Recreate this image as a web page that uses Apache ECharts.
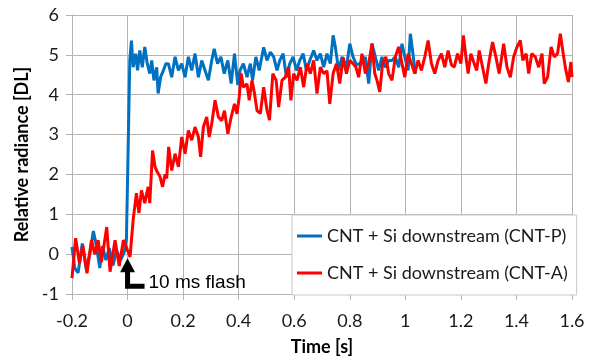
<!DOCTYPE html>
<html>
<head>
<meta charset="utf-8">
<script src="https://cdn.jsdelivr.net/npm/echarts@6/dist/echarts.min.js"></script>
<style>
html,body{margin:0;padding:0;background:#fff;}
#chart{width:591px;height:361px;}
</style>
</head>
<body>
<div id="chart"></div>
<script>
// ---- data ----
var seriesNames = ['CNT + Si downstream (CNT-P)', 'CNT + Si downstream (CNT-A)'];
var xTicks = [-0.2, 0, 0.2, 0.4, 0.6, 0.8, 1, 1.2, 1.4, 1.6];
var yTicks = [-1, 0, 1, 2, 3, 4, 5, 6];
var annotationText = '10 ms flash';

var blueT = [-0.200,-0.190,-0.178,-0.163,-0.148,-0.135,-0.123,-0.112,-0.100,-0.090,-0.078,-0.066,-0.052,-0.040,-0.025,-0.012,-0.004,
  0.002,0.008,0.014,0.020,0.029,0.036,0.044,0.053,0.062,0.071,0.080,0.087,0.095,0.105,0.110,0.119,0.129,0.138,
  0.147,0.159,0.171,0.183,0.195,0.207,0.219,0.231,0.243,0.255,0.267,0.279,0.291,0.303,0.312,0.324,0.336,0.348,
  0.361,0.373,0.385,0.397,0.405,0.417,0.430,0.442,0.450,0.462,0.474,0.490,0.502,0.514,0.526,0.538,0.548,0.560,
  0.572,0.584,0.596,0.608,0.620,0.632,0.644,0.656,0.670,0.682,0.694,0.706,0.718,0.730,0.740,0.748,0.760,0.772,
  0.788,0.800,0.812,0.824,0.836,0.846,0.856,0.868,0.880,0.892,0.904,0.916,0.928,0.940,0.952,0.964,0.976,0.988,
  0.998,1.010,1.018,1.026,1.036];
var blueV = [0.18,-0.35,-0.47,0.27,-0.40,0.05,0.58,0.20,-0.35,0.20,-0.15,0.15,-0.28,0.10,-0.15,0.05,0.40,
  2.60,4.86,5.36,4.69,5.03,4.61,5.11,4.69,5.20,4.78,4.53,4.86,4.36,4.69,4.03,4.44,4.61,4.78,
  4.78,4.44,4.95,4.61,4.78,4.44,4.95,4.61,5.03,4.44,4.86,4.61,4.36,4.86,5.15,4.78,4.95,4.53,
  4.86,4.28,5.03,4.24,4.61,4.78,4.44,4.78,4.36,4.95,4.61,5.19,4.86,5.07,4.95,4.61,4.86,5.03,
  4.44,4.78,4.95,4.61,4.86,5.03,4.61,4.86,5.11,4.86,5.03,4.69,5.03,4.78,5.49,5.20,4.61,4.95,
  4.69,5.28,4.95,4.75,4.78,4.82,4.95,4.28,5.28,4.95,4.61,4.95,4.69,4.86,4.86,4.95,4.69,5.28,
  4.95,4.61,5.53,5.11,4.53];

var redT = [-0.200,-0.187,-0.173,-0.161,-0.146,-0.130,-0.118,-0.106,-0.094,-0.075,-0.063,-0.045,-0.030,-0.015,-0.003,
  0.009,0.020,0.032,0.041,0.050,0.062,0.074,0.080,0.090,0.099,0.107,0.117,0.126,0.135,0.141,0.148,0.159,0.171,
  0.183,0.195,0.207,0.219,0.231,0.243,0.255,0.263,0.273,0.285,0.294,0.303,0.315,0.327,0.339,0.349,0.361,0.373,
  0.385,0.394,0.402,0.409,0.417,0.430,0.438,0.448,0.457,0.466,0.478,0.490,0.502,0.511,0.523,0.535,0.544,0.556,
  0.568,0.580,0.588,0.598,0.610,0.622,0.634,0.646,0.658,0.670,0.682,0.694,0.706,0.718,0.728,0.740,0.752,0.764,
  0.776,0.788,0.800,0.812,0.822,0.832,0.844,0.856,0.868,0.880,0.890,0.898,0.908,0.918,0.930,0.940,0.952,0.964,
  0.976,0.988,0.998,1.010,1.022,1.034,1.046,1.058,1.070,1.082,1.094,1.106,1.118,1.130,1.142,1.154,1.166,1.176,
  1.188,1.200,1.209,1.218,1.226,1.236,1.248,1.257,1.266,1.278,1.290,1.300,1.314,1.326,1.338,1.354,1.366,1.378,
  1.390,1.402,1.414,1.423,1.435,1.444,1.455,1.468,1.480,1.492,1.500,1.512,1.525,1.536,1.548,1.558,1.570,1.578,
  1.587,1.596,1.600];
var redV = [-0.60,0.40,-0.23,0.22,-0.48,0.35,0.00,0.35,-0.20,0.68,-0.44,0.35,-0.30,0.35,0.15,
  -0.07,0.85,1.53,1.03,1.60,1.28,1.69,1.28,2.60,2.19,2.06,1.94,1.69,2.00,1.90,2.69,2.10,2.52,
  2.19,2.94,2.52,3.10,2.86,3.19,2.94,2.44,3.19,3.44,2.94,3.27,3.86,3.44,3.35,3.60,3.02,3.44,
  3.77,3.52,3.94,4.53,4.19,4.27,3.86,4.36,4.03,3.60,3.53,4.19,3.61,3.36,4.53,4.36,3.69,4.36,
  4.44,4.69,3.86,4.53,4.36,4.69,4.19,4.78,4.53,4.86,4.03,4.69,4.53,4.60,3.77,4.53,4.78,4.28,
  4.94,4.53,4.86,4.78,4.69,4.44,5.03,4.53,4.78,5.28,4.53,4.36,4.07,4.78,4.95,4.53,4.36,4.95,
  5.20,4.78,4.44,5.03,4.78,4.53,4.86,4.61,4.95,5.36,4.78,4.53,4.86,5.03,4.69,5.11,4.75,4.69,
  5.03,4.78,5.49,4.95,4.53,5.03,4.78,4.61,5.11,4.69,4.28,4.78,5.32,4.95,4.53,5.28,4.69,4.44,
  4.95,5.20,5.36,4.86,5.03,4.53,5.03,4.95,4.69,5.03,4.28,4.44,5.20,4.95,5.03,5.53,4.95,4.61,
  4.32,4.82,4.44];

var blueData = blueT.map(function(t,i){return [t, blueV[i]];});
var redData = redT.map(function(t,i){return [t, redV[i]];});

var chart = echarts.init(document.getElementById('chart'), null, {renderer:'canvas'});
var labelFont = 'Lato';
var gridColor = '#b4b4b4';
var option = {
  animation: false,
  backgroundColor: '#ffffff',
  grid: {left: 72, right: 19, top: 15, bottom: 67, containLabel: false},
  xAxis: {
    type: 'value', min: xTicks[0], max: xTicks[xTicks.length-1], interval: 0.2,
    name: 'Time [s]', nameLocation: 'middle', nameGap: 44,
    nameTextStyle: {fontFamily: labelFont, fontSize: 18, fontWeight: 'bold', color: '#000'},
    axisLine: {show: true, onZero: false, lineStyle: {color: gridColor, width: 1}},
    axisTick: {show: true, inside: false, length: 6, lineStyle: {color: gridColor}},
    axisLabel: {fontFamily: labelFont, fontSize: 18, color: '#1a1a1a', margin: 18,
      formatter: function(v){ return String(Math.round(v*10)/10); }},
    splitLine: {show: true, lineStyle: {color: gridColor, width: 1}}
  },
  yAxis: {
    type: 'value', min: yTicks[0], max: yTicks[yTicks.length-1], interval: 1,
    name: 'Relative radiance [DL]', nameLocation: 'middle', nameGap: 39,
    nameTextStyle: {fontFamily: labelFont, fontSize: 18, fontWeight: 'bold', color: '#000'},
    axisLine: {show: true, onZero: false, lineStyle: {color: gridColor, width: 1}},
    axisTick: {show: true, inside: false, length: 6, lineStyle: {color: gridColor}},
    axisLabel: {fontFamily: labelFont, fontSize: 18, color: '#1a1a1a', margin: 13},
    splitLine: {show: true, lineStyle: {color: gridColor, width: 1}}
  },
  legend: {
    orient: 'vertical', left: 292, top: 215,
    backgroundColor: '#ffffff', borderColor: '#c8c8c8', borderWidth: 1,
    padding: [10, 9, 11, 5], itemGap: 15, itemWidth: 25, itemHeight: 14,
    itemTextGap: 2,
    textStyle: {fontFamily: labelFont, fontSize: 18, color: '#1a1a1a', lineHeight: 22},
    data: seriesNames.map(function(n){ return {name: n, icon: 'path://M0,5.5 L25,5.5 L25,8.5 L0,8.5 Z'}; })
  },
  series: [
    {name: seriesNames[0], type: 'line', data: blueData, symbol: 'none', smooth: false,
     lineStyle: {color: '#0070C0', width: 3}, itemStyle: {color: '#0070C0'}, z: 3},
    {name: seriesNames[1], type: 'line', data: redData, symbol: 'none', smooth: false,
     lineStyle: {color: '#FF0000', width: 3}, itemStyle: {color: '#FF0000'}, z: 4}
  ]
};
chart.setOption(option);

// annotation arrow anchored at the flash time (t = 0)
var tip = chart.convertToPixel({gridIndex: 0}, [0, -0.1]);
var tx = tip[0], ty = tip[1];
chart.setOption({
  graphic: [
    {type: 'polygon', z: 100, shape: {points: [[tx, ty], [tx-7.5, ty+14], [tx+7.5, ty+14]]}, style: {fill: '#000'}},
    {type: 'polyline', z: 100, shape: {points: [[tx, ty+12], [tx, ty+28], [tx+17, ty+28]]},
      style: {stroke: '#000', lineWidth: 5, fill: null, lineJoin: 'miter'}},
    {type: 'text', z: 100, x: tx+21, y: ty+25, style: {text: annotationText, font: '19px "Liberation Sans"', fill: '#000', verticalAlign: 'middle'}}
  ]
});
</script>
</body>
</html>
